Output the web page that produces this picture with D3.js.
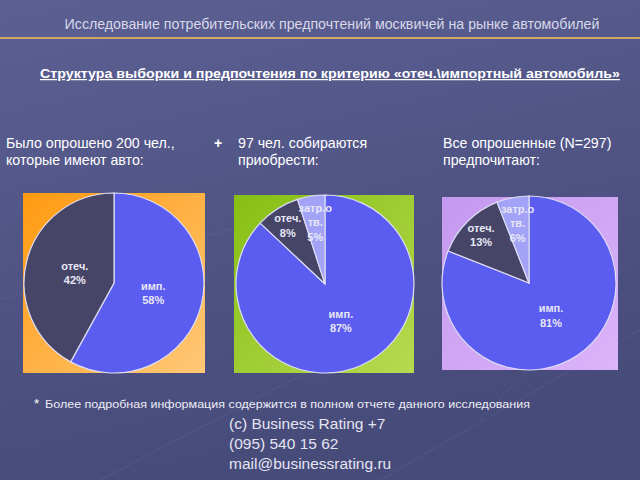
<!DOCTYPE html>
<html><head><meta charset="utf-8">
<script src="https://cdn.jsdelivr.net/npm/d3@7"></script>
<style>body{margin:0;background:#4d5180}svg{display:block}</style>
</head><body>
<svg id="c" width="640" height="480"></svg>
<script>
const title = "Исследование потребительских предпочтений москвичей на рынке автомобилей";
const subtitle = "Структура выборки и предпочтения по критерию «отеч.\\импортный автомобиль»";
const headers = [["Было опрошено 200 чел.,", "которые имеют авто:"], ["97 чел. собираются", "приобрести:"], ["Все опрошенные (N=297)", "предпочитают:"]];
const categories = ["имп.", "отеч.", "затр.о|тв."];
const pie1 = [58, 42, 0];
const pie2 = [87, 8, 5];
const pie3 = [81, 13, 6];
const footnote = "Более подробная информация содержится  в полном отчете данного исследования";
const contacts = ["(c) Business Rating +7", "(095) 540 15 62", "mail@businessrating.ru"];

const svg = d3.select("#c");
const defs = svg.append("defs");
const bg = defs.append("linearGradient").attr("id","bg").attr("x1",0).attr("y1",0).attr("x2",0.3).attr("y2",1);
bg.append("stop").attr("offset",0).attr("stop-color","#5b5f92");
bg.append("stop").attr("offset",1).attr("stop-color","#474b7a");
svg.append("rect").attr("width",640).attr("height",480).attr("fill","url(#bg)");

const streaks = [[0,300,260,220],[380,480,640,330],[100,480,330,360],[480,420,640,250]];
svg.selectAll("line.s").data(streaks).join("line").attr("class","s")
  .attr("x1",d=>d[0]).attr("y1",d=>d[1]).attr("x2",d=>d[2]).attr("y2",d=>d[3])
  .attr("stroke","#6a6ea0").attr("stroke-opacity",0.35).attr("stroke-width",1);

svg.append("text").attr("x",332).attr("y",29).attr("text-anchor","middle")
  .attr("font-family","Liberation Sans, Arial, sans-serif").attr("font-size",14.2).attr("fill","#d8d8ea").text(title);
svg.append("line").attr("x1",0).attr("x2",640).attr("y1",38).attr("y2",38).attr("stroke","#d4a860").attr("stroke-width",2);

svg.append("text").attr("x",330).attr("y",78).attr("text-anchor","middle")
  .attr("font-family","Liberation Sans, Arial, sans-serif").attr("font-size",12.5).attr("font-weight","bold")
  .attr("fill","#ffffff").attr("text-decoration","underline").attr("textLength",580).attr("lengthAdjust","spacingAndGlyphs").text(subtitle);

const hx = [6, 238, 443];
headers.forEach((h,i)=>{
  h.forEach((line,j)=>{
    svg.append("text").attr("x",hx[i]).attr("y",148+j*17)
      .attr("font-family","Liberation Sans, Arial, sans-serif").attr("font-size",14.2).attr("fill","#ffffff").text(line);
  });
});
svg.append("text").attr("x",214).attr("y",148).attr("font-family","Liberation Sans, Arial, sans-serif")
  .attr("font-size",14).attr("font-weight","bold").attr("fill","#ffffff").text("+");

const panels = [
  {data:pie1, box:[23,193,182,180], c:[114,283], r:90, g:["#ff9a10","#ffc878"]},
  {data:pie2, box:[234,195,180,178], c:[325,284], r:89, g:["#86bf14","#b6da50"]},
  {data:pie3, box:[442,197,176,173], c:[529,283], r:87, g:["#c498ee","#dcb4fa"]}
];
const colors = d3.scaleOrdinal().domain(categories).range(["#5b5cf0","#464568","#a2a2f6"]);
const pie = d3.pie().sort(null).value(d=>d.v);

panels.forEach((p,i)=>{
  const gid = "g"+i;
  const lg = defs.append("linearGradient").attr("id",gid).attr("x1",0).attr("y1",0).attr("x2",1).attr("y2",1);
  lg.append("stop").attr("offset",0).attr("stop-color",p.g[0]);
  lg.append("stop").attr("offset",1).attr("stop-color",p.g[1]);
  svg.append("rect").attr("x",p.box[0]).attr("y",p.box[1]).attr("width",p.box[2]).attr("height",p.box[3]).attr("fill","url(#"+gid+")");
  const g = svg.append("g").attr("transform",`translate(${p.c[0]},${p.c[1]})`);
  const rows = categories.map((k,j)=>({k, v:p.data[j]})).filter(d=>d.v>0);
  const arcs = pie(rows);
  const arc = d3.arc().innerRadius(0).outerRadius(p.r);
  g.selectAll("path").data(arcs).join("path").attr("d",arc).attr("fill",d=>colors(d.data.k))
    .attr("stroke","#dcdcf4").attr("stroke-width",1.2);
  arcs.forEach(a=>{
    const lr = a.data.v >= 20 ? 0.45*p.r : (a.data.k==="отеч." ? 0.78*p.r : 0.7*p.r);
    const [x,y] = d3.arc().innerRadius(lr).outerRadius(lr).centroid(a);
    const lines = a.data.k.split("|").concat([a.data.v+"%"]);
    const lh = 14.5;
    lines.forEach((t,j)=>{
      g.append("text").attr("x",x).attr("y",y+(j-(lines.length-1)/2)*lh+4)
        .attr("text-anchor","middle").attr("font-family","Liberation Sans, Arial, sans-serif")
        .attr("font-size",11).attr("font-weight","bold").attr("fill","#e8e8f6").text(t);
    });
  });
});

svg.append("text").attr("x",34).attr("y",408).attr("font-family","Liberation Sans, Arial, sans-serif")
  .attr("font-size",13).attr("fill","#ffffff").text("*");
svg.append("text").attr("x",45).attr("y",408).attr("font-family","Liberation Sans, Arial, sans-serif")
  .attr("font-size",11).attr("fill","#ececf6").attr("textLength",485).attr("lengthAdjust","spacingAndGlyphs").text(footnote);
contacts.forEach((t,i)=>{
  svg.append("text").attr("x",229).attr("y",429+i*20).attr("font-family","Liberation Sans, Arial, sans-serif")
    .attr("font-size",15.5).attr("fill","#e4e4f2").text(t);
});
</script>
</body></html>
